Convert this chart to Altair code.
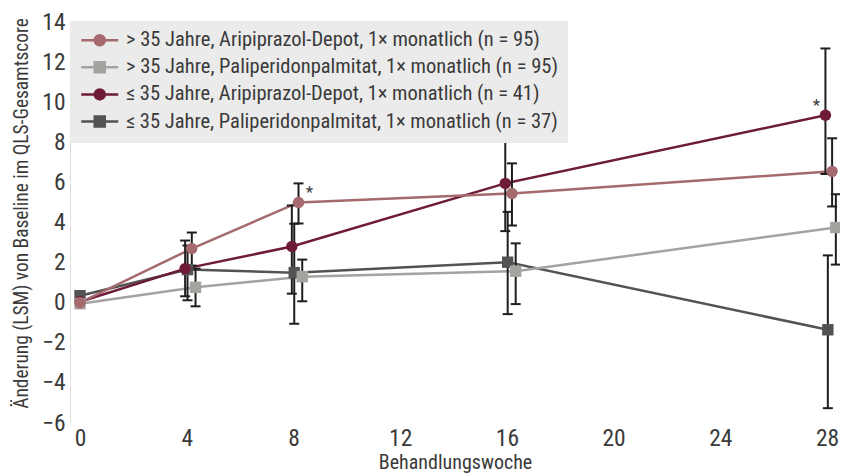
import altair as alt
import pandas as pd

# ---------------- data ----------------
weeks = [0, 4, 8, 16, 28]

series = [
    "> 35 Jahre, Aripiprazol-Depot, 1× monatlich (n = 95)",
    "> 35 Jahre, Paliperidonpalmitat, 1× monatlich (n = 95)",
    "≤ 35 Jahre, Aripiprazol-Depot, 1× monatlich (n = 41)",
    "≤ 35 Jahre, Paliperidonpalmitat, 1× monatlich (n = 37)",
]

mean_old_ari = [0.0, 2.7, 5.0, 5.45, 6.55]
lo_old_ari = [None, 1.85, 3.95, 3.85, 4.8]
hi_old_ari = [None, 3.5, 5.95, 6.95, 8.2]

mean_old_pp = [-0.05, 0.77, 1.3, 1.57, 3.75]
lo_old_pp = [None, -0.18, 0.07, -0.07, 1.9]
hi_old_pp = [None, 1.7, 2.15, 2.96, 5.41]

mean_young_ari = [0.05, 1.7, 2.8, 5.95, 9.35]
lo_young_ari = [None, 0.32, 0.45, 3.57, 6.42]
hi_young_ari = [None, 3.1, 4.85, 8.29, 12.68]

mean_young_pp = [0.35, 1.65, 1.5, 2.02, -1.35]
lo_young_pp = [None, 0.12, -1.05, -0.57, -5.26]
hi_young_pp = [None, 2.85, 3.94, 4.53, 2.36]

# significance markers (series index, week)
star_series = [0, 2]
star_week = [8, 28]

x_ticks = [0, 4, 8, 12, 16, 20, 24, 28]
y_ticks = [-6, -4, -2, 0, 2, 4, 6, 8, 10, 12, 14]

# ---------------- styling ----------------
colors = ["#a56a6e", "#a3a3a0", "#6e1b38", "#535353"]
plot_shapes = ["circle", "square", "circle", "square"]
legend_shapes = [
    "M-3.7,0H3.7M1,0A1,1,0,1,1,-1,0A1,1,0,1,1,1,0Z",
    "M-3.7,0H3.7M-1,-1H1V1H-1Z",
    "M-3.7,0H3.7M1,0A1,1,0,1,1,-1,0A1,1,0,1,1,1,0Z",
    "M-3.7,0H3.7M-1,-1H1V1H-1Z",
]
dodge = [0.19, 0.33, -0.06, 0.03]   # horizontal dodge of the series (weeks)
draw_order = [3, 2, 1, 0]
BG = "#ebebeb"
TXT = "#3a3a3a"
FONT = ("Roboto Condensed, Open Sans Condensed, Liberation Sans Narrow, "
        "DejaVu Sans Condensed, sans-serif")

means = [mean_old_ari, mean_old_pp, mean_young_ari, mean_young_pp]
los = [lo_old_ari, lo_old_pp, lo_young_ari, lo_young_pp]
his = [hi_old_ari, hi_old_pp, hi_young_ari, hi_young_pp]

rows = []
for order, si in enumerate(draw_order):
    for wi, w in enumerate(weeks):
        rows.append({
            "series": series[si],
            "order": order,
            "week": w,
            "x": w + (dodge[si] if w > 0 else 0.0),
            "mean": means[si][wi],
            "lo": los[si][wi],
            "hi": his[si][wi],
        })
df = pd.DataFrame(rows)
bars = df.dropna(subset=["lo"]).copy()
caps = pd.concat([
    bars[["series", "x"]].assign(cap=bars["lo"]),
    bars[["series", "x"]].assign(cap=bars["hi"]),
])
ticks_df = pd.DataFrame({"t": x_ticks})

xscale = alt.Scale(domain=[-0.375, 28.486], nice=False, zero=False)
yscale = alt.Scale(domain=[-6, 14], nice=False, zero=False)
xaxis = alt.Axis(values=x_ticks, ticks=False, domain=False, grid=False,
                 labelFontSize=23.5, labelColor=TXT, labelPadding=3, labelFlush=False,
                 title="Behandlungswoche", titleFontSize=20, titleFontWeight="normal",
                 titleColor=TXT, titlePadding=3)
yaxis = alt.Axis(values=y_ticks, ticks=False, domain=False, grid=True,
                 gridColor="white", gridWidth=3,
                 labelFontSize=23.5, labelColor=TXT, labelPadding=5, labelFlush=False,
                 title="Änderung (LSM) von Baseline im QLS-Gesamtscore",
                 titleFontSize=19.4, titleFontWeight="normal", titleColor=TXT,
                 titleAngle=-90, titleX=-49, titleY=191, titleBaseline="middle",
                 titleAlign="center")

X = lambda f: alt.X(f, scale=xscale, axis=xaxis)
Y = lambda f: alt.Y(f, scale=yscale, axis=yaxis)

col_scale = alt.Scale(domain=series, range=colors)

tick_layer = alt.Chart(ticks_df).mark_rule(color="white", strokeWidth=3).encode(
    x=X("t:Q"), y=alt.value(392), y2=alt.value(401)
)

line_layer = alt.Chart(df).mark_line(strokeWidth=2.5).encode(
    x=X("x:Q"), y=Y("mean:Q"),
    stroke=alt.Stroke("series:N", scale=col_scale, legend=None),
    detail="series:N",
)

rule_layer = alt.Chart(bars).mark_rule(color="#1e1e1e", strokeWidth=2).encode(
    x=X("x:Q"), y=Y("lo:Q"), y2="hi:Q"
)

cap_layer = alt.Chart(caps).mark_tick(color="#1e1e1e", orient="horizontal",
                                      size=10, thickness=2, opacity=1).encode(
    x=X("x:Q"), y=Y("cap:Q")
)

point_layer = alt.Chart(df).mark_point(filled=True, size=130, opacity=1).encode(
    x=X("x:Q"), y=Y("mean:Q"),
    fill=alt.Fill("series:N", scale=col_scale, legend=None),
    shape=alt.Shape("series:N", scale=alt.Scale(domain=series, range=plot_shapes), legend=None),
    order="order:Q",
)

star_layers = []
star_dx = [11, -9]
for k, (si, w) in enumerate(zip(star_series, star_week)):
    sd = df[(df["series"] == series[si]) & (df["week"] == w)]
    star_layers.append(
        alt.Chart(sd).mark_text(text="*", fontSize=17, color=TXT, dx=star_dx[k], dy=-9,
                                font=FONT).encode(x=X("x:Q"), y=Y("mean:Q"))
    )

leg = alt.Legend(title=None, orient="none", legendX=0, legendY=-1, direction="vertical",
                 padding=9, fillColor=BG, strokeColor=BG, symbolSize=100,
                 symbolStrokeWidth=2.5, symbolOffset=10.5, labelOffset=16,
                 labelFontSize=20.5, labelFont=FONT, labelColor=TXT, labelLimit=800,
                 rowPadding=6.1, labelBaseline="middle", symbolOpacity=1)

legend_layer = alt.Chart(df).transform_filter("false").mark_point(
    filled=True, size=100, opacity=1, strokeWidth=2.5).encode(
    x=X("x:Q"), y=Y("mean:Q"),
    fill=alt.Fill("series:N", scale=col_scale, legend=leg),
    stroke=alt.Stroke("series:N", scale=col_scale, legend=leg),
    shape=alt.Shape("series:N", scale=alt.Scale(domain=series, range=legend_shapes), legend=leg),
)

chart = alt.layer(
    tick_layer, line_layer, rule_layer, cap_layer, point_layer, *star_layers, legend_layer
).resolve_scale(
    fill="independent", stroke="independent", shape="independent"
).properties(
    width=770, height=401,
    autosize=alt.AutoSizeParams(type="none"),
    padding={"left": 62, "top": 14, "right": 0, "bottom": 52},
    background="white",
).configure_view(
    fill=BG, stroke=None
).configure(
    font=FONT
)

chart.save("out.html", embed_options={"renderer": "svg", "actions": False})
